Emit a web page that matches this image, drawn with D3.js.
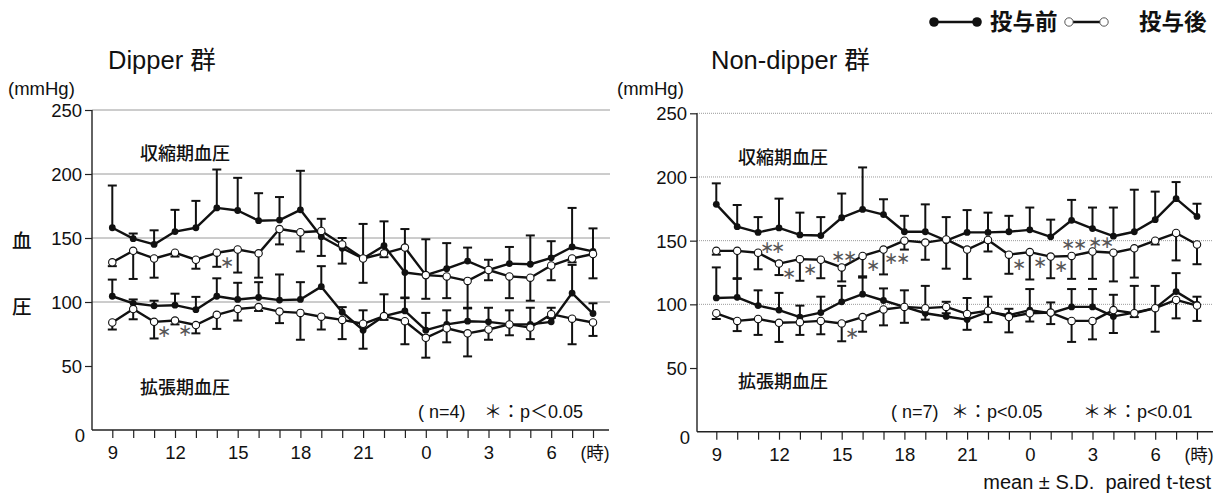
<!DOCTYPE html>
<html><head><meta charset="utf-8">
<script src="https://cdn.jsdelivr.net/npm/d3@7"></script>
<style>
body{margin:0;background:#fff}
svg{opacity:0.995}
text{font-family:"Liberation Sans","Noto Sans CJK JP",sans-serif}
</style>
</head><body>
<svg id="chart" width="1215" height="495"></svg>
<script>
// ---------- data ----------
const hours = [9,10,11,12,13,14,15,16,17,18,19,20,21,22,23,0,1,2,3,4,5,6,7,8];
const tickLabelHours = [9,12,15,18,21,0,3,6];
const yTicks = [0,50,100,150,200,250];
const gridValues = [100,150,200,250];

// Dipper group (n=4)
const dipSysBefore   = [158,149.5,145,155,158,173.5,171.5,163.5,164,172,151,142,134,144,123,121,126,132,125,130,129.5,134.5,143,139.5];
const dipSysBeforeSD = [33,4,11,17,21,30,25.5,21.5,18,30.5,14,8,27,19,34,28,20,10.5,8,13,22.5,13,30.5,18];
const dipSysAfter    = [131,140,134,138.5,133,138.5,141,138,157,154.5,155.5,145,134,138,142.5,121,120,116.5,125,120,119,128.5,134,137.5];
const dipSysAfterSD  = [3,22,15,3,7,11,18,19,12,15,19.5,15,19,3,39,18.5,17,21,8,17,18,11.5,3,19];
const dipDiaBefore   = [104.5,99,97,97.5,94,104.5,102,103.5,101.5,102,112,92,78,89,93,78,82.5,85,84.5,82.5,82.5,84.5,107,91];
const dipDiaBeforeSD = [13,3,4,9,10,14,13,12,20,13.5,16,4,15.5,17,10,13.5,11,10,11,11,13,11,22,8];
const dipDiaAfter    = [84,94.5,84.5,85.5,82,90,94.5,96,92.5,91.5,88.5,86,83,89,85,72,79.5,75.5,78.5,82.5,80,90.5,87,84];
const dipDiaAfterSD  = [5.5,8,13,3,6.5,11,9,3,9,21,10,15,19.5,3,18,15.5,11,18,8,8.5,9,3,20,10.5];
// significance marks: [series, hour, mark, placement]
const dipStars = [["sysAfter",14,"*","below"],["diaAfter",11,"*","below"],["diaAfter",12,"*","below"]];

// Non-dipper group (n=7)
const ndSysBefore   = [178.5,161,156.5,160,154.5,154,168,174.5,170.5,157,157,150,156.5,156.5,157,158.5,153,166,159.5,153.5,157,166.5,183,169];
const ndSysBeforeSD = [16.5,17,12,23,17.5,14.5,19,33,12,12.5,21.5,18.5,17.5,15.5,12.5,17.5,13.5,16,16.5,22.5,33,22,13,10];
const ndSysAfter    = [142,142,140.5,132,135.5,135,129,138,143,150,148.5,151,143,150.5,139,141,137.5,138,141.5,140.5,144,150,156,147];
const ndSysAfterSD  = [3,22,13,9,17,14.5,11,16,19.5,7,13.5,23,23,9,15,21.5,17,18,21.5,22.5,23,3,21.5,15.5];
const ndDiaBefore   = [105,105.5,99,95.5,90,93.5,102,108,103,98,93,90.5,88,94,91.5,95.5,93,98,98,90.5,93.5,97,110,100];
const ndDiaBeforeSD = [24,15,12,13.5,9,12.5,12.5,13,9.5,13,21.5,11.5,17,12,5,16.5,8.5,14,14,17,21,17.5,14.5,6];
const ndDiaAfter    = [93,87,88.5,85.5,86,87,85,90,96,98,97,98,92.5,95,90,93,93.5,87,87,95.5,93,97,103.5,99];
const ndDiaAfterSD  = [4.5,8,12.5,15,10,10.5,14,11.5,12.5,12.5,9,5,12.5,9,12,6.5,9,16.5,14.5,18,3,18.5,14.5,12];
const ndStars = [["sysAfter",11,"**","right"],["sysAfter",12,"*","below"],["sysAfter",13,"*","below"],
  ["sysAfter",15,"**","above"],["sysAfter",16,"*","below"],["sysAfter",17,"**","below"],
  ["sysAfter",23,"*","below"],["sysAfter",0,"*","below"],["sysAfter",1,"*","below"],
  ["sysAfter",2,"**","above"],["sysAfter",3,"**","aboveRight"],["diaAfter",15,"*","below"]];

// ---------- drawing ----------
const svg = d3.select("#chart");
const FONT_LAT = "Liberation Sans";
const INK = "#111";

function txt(parent, x, y, size, s){
  return parent.append("text").attr("x", x).attr("y", y).attr("font-size", size)
    .style("fill", INK).attr("xml:space","preserve").text(s);
}

function panel(cfg){
  const g = svg.append("g");
  const x = d3.scalePoint().domain(hours).range(cfg.xRange);
  const y = d3.scaleLinear().domain([0,250]).range(cfg.yRange);
  const ax = cfg.axisX, base = y(0);

  // gridlines
  g.selectAll(".grid").data(gridValues).join("line")
    .attr("x1", ax).attr("x2", cfg.gridEnd)
    .attr("y1", d=>y(d)).attr("y2", d=>y(d))
    .attr("stroke", "#9a9a9a").attr("stroke-width", 1)
    .attr("stroke-dasharray", cfg.dash || null);

  // y axis
  const yAxis = g.append("g").attr("transform", `translate(${ax},0)`)
    .call(d3.axisLeft(y).tickValues(yTicks).tickSize(7).tickPadding(4));
  yAxis.select(".domain").remove();
  yAxis.selectAll(".tick line").attr("stroke", "#222").attr("stroke-width", 1.2)
    .attr("display", d => d===0 ? "none" : null);
  yAxis.selectAll(".tick text").attr("font-family", FONT_LAT).attr("font-size", 18.5).style("fill",INK)
    .attr("x", d => d===0 ? -7 : -10).attr("dy", d => d===0 ? "0.62em" : "0.35em");
  g.append("line").attr("x1", ax).attr("x2", ax).attr("y1", y(250)).attr("y2", base)
    .attr("stroke", "#222").attr("stroke-width", 1.4);

  // x axis
  const xAxis = g.append("g").attr("transform", `translate(0,${base})`)
    .call(d3.axisBottom(x).tickValues(hours).tickSize(8)
      .tickFormat(h => tickLabelHours.includes(h) ? h : ""));
  xAxis.select(".domain").remove();
  xAxis.selectAll(".tick line").attr("stroke", "#222").attr("stroke-width", 1.2);
  xAxis.selectAll(".tick text").attr("font-family", FONT_LAT).attr("font-size", 18.5)
    .style("fill",INK).attr("y", 29).attr("dy", 0);
  g.append("line").attr("x1", ax).attr("x2", cfg.axisEnd).attr("y1", base).attr("y2", base)
    .attr("stroke", "#222").attr("stroke-width", 1.4);
  txt(g, x(8) + 2, base + 29, 17.5, "(時)").attr("text-anchor","middle");

  // series
  const series = [
    {key:"sysBefore", v:cfg.sysBefore, sd:cfg.sysBeforeSD, dir:1,  filled:true},
    {key:"diaBefore", v:cfg.diaBefore, sd:cfg.diaBeforeSD, dir:1,  filled:true},
    {key:"sysAfter",  v:cfg.sysAfter,  sd:cfg.sysAfterSD,  dir:-1, filled:false},
    {key:"diaAfter",  v:cfg.diaAfter,  sd:cfg.diaAfterSD,  dir:-1, filled:false}
  ];
  const cap = 4.5;
  series.forEach(s => {
    const pts = hours.map((h,i)=>({h, v:s.v[i], e:s.v[i] + s.dir*s.sd[i]}));
    const eb = g.append("g");
    eb.selectAll("line.v").data(pts).join("line")
      .attr("x1", d=>x(d.h)).attr("x2", d=>x(d.h)).attr("y1", d=>y(d.v)).attr("y2", d=>y(d.e))
      .attr("stroke","#111").attr("stroke-width",2);
    eb.selectAll("line.c").data(pts).join("line")
      .attr("x1", d=>x(d.h)-cap).attr("x2", d=>x(d.h)+cap).attr("y1", d=>y(d.e)).attr("y2", d=>y(d.e))
      .attr("stroke","#111").attr("stroke-width",2);
  });
  const line = d3.line().x(d=>x(d.h)).y(d=>y(d.v));
  series.forEach(s => {
    const pts = hours.map((h,i)=>({h, v:s.v[i]}));
    g.append("path").datum(pts).attr("d", line).attr("fill","none")
      .attr("stroke","#111").attr("stroke-width",2.4).attr("stroke-linejoin","round");
  });
  series.filter(s=>s.filled).forEach(s => {
    g.selectAll(null).data(hours.map((h,i)=>({h, v:s.v[i]}))).join("circle")
      .attr("cx", d=>x(d.h)).attr("cy", d=>y(d.v)).attr("r", 3.4).attr("fill","#111");
  });
  series.filter(s=>!s.filled).forEach(s => {
    g.selectAll(null).data(hours.map((h,i)=>({h, v:s.v[i]}))).join("circle")
      .attr("cx", d=>x(d.h)).attr("cy", d=>y(d.v)).attr("r", 3.7)
      .attr("fill","#fff").attr("stroke","#111").attr("stroke-width",1.1);
  });

  // significance marks
  const byKey = Object.fromEntries(series.map(s=>[s.key,s]));
  const offsets = {below:[9,10], belowDouble:[12,9], above:[1,-11], aboveRight:[7,-9], right:[13,-5]};
  const sg = g.append("g").attr("opacity", 0.99);
  cfg.stars.forEach(([key,h,mark,place]) => {
    const s = byKey[key]; const i = hours.indexOf(h);
    const px = x(h), py = y(s.v[i]);
    const k = (place==="below" && mark.length>1) ? "belowDouble" : place;
    const [dx, dy] = offsets[k];
    sg.append("text").attr("x", px+dx).attr("y", py+dy).attr("text-anchor","middle")
      .attr("dominant-baseline","central").attr("font-family","DejaVu Sans")
      .attr("font-size", 17).style("fill","#555").attr("letter-spacing", -2.5)
      .text(mark.replace(/\*/g,"\u2217"));
  });

  // texts
  txt(g, cfg.titleX, 69, 25.5, cfg.title);
  txt(g, cfg.unitX, 95, 18.5, "(mmHg)");
  txt(g, cfg.labelX, y(cfg.sysLabelV), 18, "収縮期血圧").attr("font-weight", 500);
  txt(g, cfg.labelX, y(cfg.diaLabelV), 18, "拡張期血圧").attr("font-weight", 500);
  cfg.notes.forEach(([s, nx]) => txt(g, nx, 418, 18, s));
}

panel({
  xRange:[112.3, 593], yRange:[430, 110], axisX:92, gridEnd:610, axisEnd:609,
  sysBefore:dipSysBefore, sysBeforeSD:dipSysBeforeSD, sysAfter:dipSysAfter, sysAfterSD:dipSysAfterSD,
  diaBefore:dipDiaBefore, diaBeforeSD:dipDiaBeforeSD, diaAfter:dipDiaAfter, diaAfterSD:dipDiaAfterSD,
  stars:dipStars, title:"Dipper 群", titleX:108, unitX:8, labelX:140, sysLabelV:211, diaLabelV:28,
  notes:[["( n=4)", 418], ["＊：p＜0.05", 484]]
});
panel({
  xRange:[716.3, 1197], yRange:[431.7, 113.3], axisX:697, gridEnd:1213, axisEnd:1213, dash:"1,1",
  sysBefore:ndSysBefore, sysBeforeSD:ndSysBeforeSD, sysAfter:ndSysAfter, sysAfterSD:ndSysAfterSD,
  diaBefore:ndDiaBefore, diaBeforeSD:ndDiaBeforeSD, diaAfter:ndDiaAfter, diaAfterSD:ndDiaAfterSD,
  stars:ndStars, title:"Non-dipper 群", titleX:711, unitX:617, labelX:738, sysLabelV:210, diaLabelV:34,
  notes:[["( n=7)", 891], ["＊：p<0.05", 951], ["＊＊：p<0.01", 1083]]
});

// shared texts
txt(svg, 12, 248, 19.5, "血").attr("font-weight", 500);
txt(svg, 12, 314, 19.5, "圧").attr("font-weight", 500);
txt(svg, 1211, 489, 20, "mean ± S.D.  paired t-test").attr("text-anchor","end");

// legend
const legend = svg.append("g");
const legendItems = [
  {label:"投与前", filled:true,  x1:934, x2:977, tx:990},
  {label:"投与後", filled:false, x1:1069, x2:1104, tx:1139}
];
legendItems.forEach(it => {
  legend.append("line").attr("x1", it.x1).attr("x2", it.x2).attr("y1", 22).attr("y2", 22)
    .attr("stroke","#111").attr("stroke-width", 2.4);
  [it.x1, it.x2].forEach(cx => {
    legend.append("circle").attr("cx", cx).attr("cy", 22).attr("r", it.filled ? 4.8 : 4.2)
      .attr("fill", it.filled ? "#111" : "#fff").attr("stroke", it.filled ? "none" : "#444")
      .attr("stroke-width", 0.9);
  });
  txt(legend, it.tx, 30, 22.5, it.label).attr("font-weight","bold");
});
</script>
</body></html>
